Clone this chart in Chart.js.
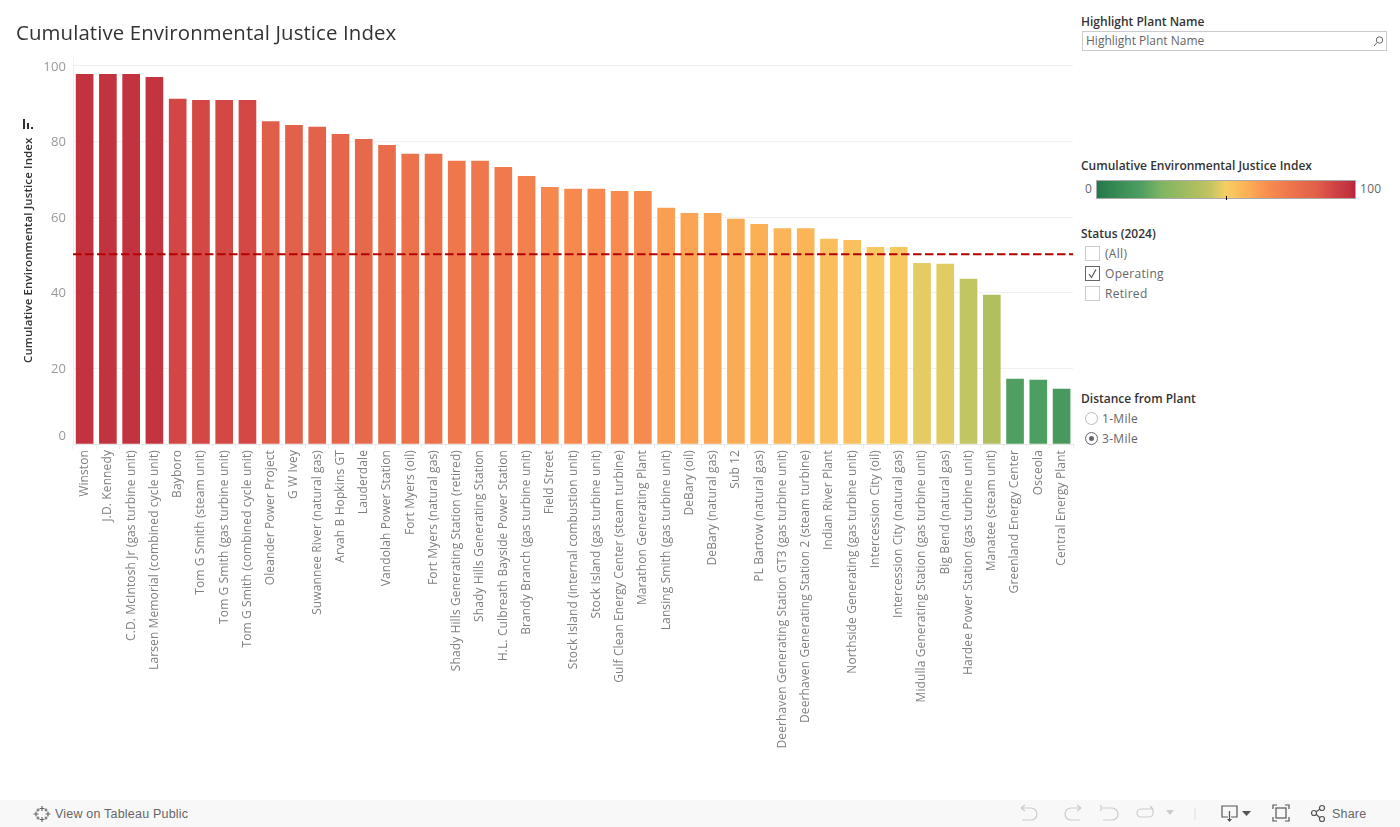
<!DOCTYPE html>
<html>
<head>
<meta charset="utf-8">
<title>Cumulative Environmental Justice Index</title>
<script src="https://cdn.jsdelivr.net/npm/chart.js@4/dist/chart.umd.min.js"></script>
<style>
html, body { margin: 0; padding: 0; background: #fff; overflow: hidden; }
body { width: 1400px; height: 827px; position: relative; font-family: "Open Sans", sans-serif; color: #333; }
#wrap { position: absolute; left: 0; top: 0; width: 1077px; height: 800px; }
.abs { position: absolute; white-space: nowrap; }
.head { font-size: 12px; font-weight: 600; line-height: 16px; color: #333; left: 1081px; }
.item { font-size: 12px; line-height: 16px; color: #666; letter-spacing: .3px; }
.box { position: absolute; box-sizing: border-box; left: 1085px; width: 15px; height: 15px; border: 1px solid #ccc; }
.radio { position: absolute; box-sizing: border-box; left: 1085px; width: 13px; height: 13px; border: 1px solid #bbb; border-radius: 50%; }
#search { left: 1082px; top: 31px; width: 305px; height: 20px; box-sizing: border-box; border: 1px solid #ccc; }
#ramp { left: 1096px; top: 180px; width: 260px; height: 19px; box-sizing: border-box; border: 1px solid #aaa; }
#bar { position: absolute; left: 0; top: 800px; width: 1400px; height: 27px; background: #f8f8f8; }
#bar span { position: absolute; font-family: "Liberation Sans", sans-serif; font-size: 12.5px; letter-spacing: .2px; color: #666; top: 6px; line-height: 16px; }
svg { position: absolute; overflow: visible; }
</style>
</head>
<body>
<div id="wrap"><canvas id="chart"></canvas></div>

<svg style="left:23px;top:119px" width="11" height="11"><g fill="#333"><rect x="0" y="0" width="2" height="10"/><rect x="4" y="4" width="2" height="6"/><rect x="8" y="8" width="2" height="2"/></g></svg>

<div class="abs head" style="top:14px">Highlight Plant Name</div>
<div class="abs" id="search"></div>
<div class="abs item" style="left:1086px;top:33px;letter-spacing:0">Highlight Plant Name</div>
<svg style="left:1373px;top:36px" width="11" height="11"><circle cx="6.5" cy="4" r="3.2" fill="none" stroke="#666"/><path d="M4 6.5L1 10" stroke="#666"/></svg>

<div class="abs head" style="top:158px">Cumulative Environmental Justice Index</div>
<div class="abs item" style="left:1085px;top:181px">0</div>
<div class="abs" id="ramp"></div>
<div class="abs" style="left:1226px;top:196px;width:1px;height:4px;background:#000"></div>
<div class="abs item" style="left:1360px;top:181px">100</div>

<div class="abs head" style="top:226px">Status (2024)</div>
<div class="box" style="top:246px"></div>
<div class="abs item" style="left:1105px;top:246px">(All)</div>
<div class="box" style="top:266px;border-color:#666"></div>
<svg style="left:1085px;top:266px" width="15" height="15"><path d="M4 8L6.5 11.5L11 3.5" fill="none" stroke="#555" stroke-width="1.2"/></svg>
<div class="abs item" style="left:1105px;top:266px">Operating</div>
<div class="box" style="top:286px"></div>
<div class="abs item" style="left:1105px;top:286px">Retired</div>

<div class="abs head" style="top:391px">Distance from Plant</div>
<div class="radio" style="top:412px"></div>
<div class="abs item" style="left:1102px;top:411px">1-Mile</div>
<div class="radio" style="top:432px;border-color:#666"></div>
<div class="abs" style="left:1089px;top:436px;width:5px;height:5px;border-radius:50%;background:#666"></div>
<div class="abs item" style="left:1102px;top:431px">3-Mile</div>

<div id="bar">
  <svg style="left:33px;top:5px" width="18" height="18"><g stroke="#666" stroke-width="1.2" fill="none"><path d="M9 1V6M6.5 3.5H11.5M9 12V17M6.5 14.5H11.5M3 6.5V11.5M.5 9H5.5M15 6.5V11.5M12.5 9H17.5M5 3.5V6.5M3.5 5H6.5M13 3.5V6.5M11.5 5H14.5M5 11.5V14.5M3.5 13H6.5M13 11.5V14.5M11.5 13H14.5"/></g></svg>
  <span style="left:55px">View on Tableau Public</span>
  <svg style="left:1019px;top:5px" width="200" height="18"><g fill="none" stroke="#ccc" stroke-width="1.2"><path d="M2 3V3H12A6 6 0 0 1 12 15H3M2 3L6 0M2 3L6 6"/><path d="M62 3H52A6 6 0 0 0 52 15H61M62 3L58 0M62 3L58 6"/><path d="M82 0V6M83 3H93A6 6 0 0 1 93 15H84"/><path d="M134 4H122A4 4 0 0 0 122 12H130A4 4 0 0 0 134 8V4M134 4L131 1"/></g><path d="M147 5H155L151 10Z" fill="#ccc"/><path d="M176 3V15" stroke="#ddd"/></svg>
  <svg style="left:1221px;top:5px" width="130" height="20"><g fill="none" stroke="#555" stroke-width="1.2"><path d="M7 12H1V1H16V12H10"/><path d="M8.5 6V16"/></g><path d="M6 14H11L8.5 17Z" fill="#555"/><path d="M21 6H30L25.5 11Z" fill="#555"/><g fill="none" stroke="#555" stroke-width="1.2"><rect x="55" y="3" width="10" height="10"/><path d="M52 4V0H56M64 0H68V4M68 12V16H64M56 16H52V12"/><circle cx="93" cy="8" r="2.5"/><circle cx="101" cy="3" r="2.5"/><circle cx="101" cy="14" r="2.5"/><path d="M95 7L99 4M95 9L99 13"/></g></svg>
  <span style="left:1332px">Share</span>
</div>

<script>
var titleText = 'Cumulative Environmental Justice Index';
var plants = ['Winston','J.D. Kennedy','C.D. McIntosh Jr (gas turbine unit)','Larsen Memorial (combined cycle unit)','Bayboro','Tom G Smith (steam unit)','Tom G Smith (gas turbine unit)','Tom G Smith (combined cycle unit)','Oleander Power Project','G W Ivey','Suwannee River (natural gas)','Arvah B Hopkins GT','Lauderdale','Vandolah Power Station','Fort Myers (oil)','Fort Myers (natural gas)','Shady Hills Generating Station (retired)','Shady Hills Generating Station','H.L. Culbreath Bayside Power Station','Brandy Branch (gas turbine unit)','Field Street','Stock Island (internal combustion unit)','Stock Island (gas turbine unit)','Gulf Clean Energy Center (steam turbine)','Marathon Generating Plant','Lansing Smith (gas turbine unit)','DeBary (oil)','DeBary (natural gas)','Sub 12','PL Bartow (natural gas)','Deerhaven Generating Station GT3 (gas turbine unit)','Deerhaven Generating Station 2 (steam turbine)','Indian River Plant','Northside Generating (gas turbine unit)','Intercession City (oil)','Intercession City (natural gas)','Midulla Generating Station (gas turbine unit)','Big Bend (natural gas)','Hardee Power Station (gas turbine unit)','Manatee (steam unit)','Greenland Energy Center','Osceola','Central Energy Plant'];
var indexValues = [97.8,97.8,97.8,97,91.2,90.9,90.9,90.9,85.3,84.3,83.8,81.9,80.6,79,76.7,76.7,74.8,74.8,73.2,70.8,67.9,67.4,67.4,66.8,66.8,62.4,61,61,59.5,58.1,57,57,54.2,53.9,52,52,47.8,47.6,43.6,39.4,17.2,16.9,14.5];
var yTicks = [0,20,40,60,80,100];
var referenceValue = 50.2;
var rampValues = [0,17,25,39,44,50,59,67,79,85,91,98,100];
var rampColors = ['#237a49','#4d9e61','#7fb562','#b0bf5f','#c3c562','#f7cf63','#fcad55','#f78a4f','#e96c4b','#e1604a','#d34745','#c1313f','#b8213e'];

function hexToRgb(h) {
    return [parseInt(h.substr(1,2),16), parseInt(h.substr(3,2),16), parseInt(h.substr(5,2),16)];
}

function rampColor(v) {
    for (var i = 1; i < rampValues.length; i++) {
        if (v <= rampValues[i]) {
            var t = (v - rampValues[i-1]) / (rampValues[i] - rampValues[i-1]);
            var a = hexToRgb(rampColors[i-1]), b = hexToRgb(rampColors[i]);
            return 'rgb(' + [0,1,2].map(function (k) { return Math.round(a[k] + (b[k]-a[k])*t); }).join(',') + ')';
        }
    }
    return rampColors[rampColors.length-1];
}

document.getElementById('ramp').style.background = 'linear-gradient(to right,' +
    rampColors.map(function (c, i) { return c + ' ' + rampValues[i] + '%'; }).join(',') + ')';

// dashed line at 50, over the whole plot width
var referenceLine = {
    id: 'referenceLine',
    beforeDraw: function (chart) { chart.ctx.letterSpacing = '0.11px'; },
    afterDatasetsDraw: function (chart) {
        var y = chart.scales.y.getPixelForValue(referenceValue), a = chart.chartArea, c = chart.ctx;
        c.save();
        c.strokeStyle = '#b30000';
        c.lineWidth = 2;
        c.setLineDash([8.5, 3.5]);
        c.beginPath();
        c.moveTo(a.left, y);
        c.lineTo(a.right, y);
        c.stroke();
        c.restore();
    }
};

var fontName = '"Open Sans", sans-serif';

new Chart(document.getElementById('chart'), {
    type: 'bar',
    data: {
        labels: plants,
        datasets: [{
            label: titleText,
            data: indexValues,
            backgroundColor: function (ctx) { return rampColor(ctx.raw); },
            barThickness: 17
        }]
    },
    options: {
        responsive: true,
        maintainAspectRatio: false,
        animation: false,
        layout: { padding: { left: 16, right: 3, top: 0, bottom: 0 } },
        plugins: {
            legend: { display: false },
            tooltip: { enabled: false },
            title: {
                display: true,
                text: titleText,
                align: 'start',
                color: '#333',
                font: { family: fontName, size: 20.4, weight: 'normal', lineHeight: 1.2 },
                padding: { top: 22, bottom: 10 }
            }
        },
        scales: {
            x: {
                afterFit: function (s) { s.height = 356; },
                grid: { drawOnChartArea: false, color: '#eee', tickLength: 5 },
                border: { color: '#e6e6e6' },
                ticks: { autoSkip: false, minRotation: 90, maxRotation: 90, color: '#808080', padding: 1, font: { family: fontName, size: 12 } }
            },
            y: {
                min: 0,
                max: 102.5,
                afterFit: function (s) { s.width = 57; },
                afterBuildTicks: function (s) { s.ticks = yTicks.map(function (v) { return { value: v }; }); },
                title: {
                    display: true,
                    text: titleText,
                    color: '#333',
                    padding: { top: 6, bottom: 0 },
                    font: { family: fontName, size: 11.5, weight: '600' }
                },
                grid: { color: '#f0f0f0', tickLength: 0 },
                border: { color: '#eee' },
                ticks: {
                    color: '#999',
                    padding: 7,
                    // two-line labels nudge the text: 0 sits above its gridline, the rest 1px lower
                    font: function (ctx) {
                        return { family: fontName, size: 13, lineHeight: ctx.tick && ctx.tick.value === 0 ? 1.25 : '2px' };
                    },
                    callback: function (v) { return v === 0 ? ['0', ''] : ['', v]; }
                }
            }
        }
    },
    plugins: [referenceLine]
});
</script>
</body>
</html>
